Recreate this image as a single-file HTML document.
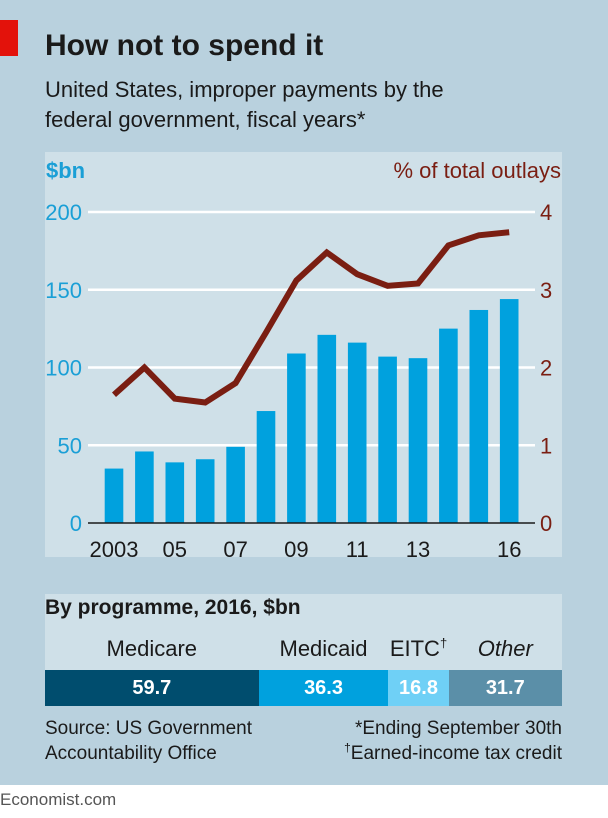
<!DOCTYPE html>
<html><head><meta charset="utf-8"><style>
body{margin:0;width:608px;height:818px;background:#fff;font-family:"Liberation Sans",sans-serif;position:relative;overflow:hidden}
.abs{position:absolute}
sup{line-height:0}
</style></head><body>
<div class="abs" style="left:0;top:0;width:608px;height:785px;background:#b9d1de"></div>
<div class="abs" style="left:0;top:20px;width:18px;height:36px;background:#e3120b"></div>
<div class="abs" style="left:45px;top:29px;font-size:30px;font-weight:bold;color:#1a1a1a">How not to spend it</div>
<div class="abs" style="left:45px;top:75px;font-size:22px;line-height:30px;color:#1a1a1a">United States, improper payments by the<br>federal government, fiscal years*</div>
<div class="abs" style="left:45px;top:152px;width:517px;height:405px;background:#cfe0e8"></div>
<svg class="abs" style="left:0;top:0" width="608" height="818">
<text x="46" y="178" font-size="22" font-weight="bold" fill="#1a9fd6">$bn</text>
<text x="561" y="178" font-size="22" fill="#7a1e12" text-anchor="end">% of total outlays</text>
<g id="g"></g>
</svg>
<div class="abs" style="left:45px;top:594px;width:517px;height:111px;background:#cfe0e8"></div>
<div class="abs" style="left:45px;top:596px;font-size:21px;font-weight:bold;color:#1a1a1a">By programme, 2016, $bn</div>
<div id="prog"></div>
<div class="abs" style="left:45px;top:716px;font-size:19px;line-height:25px;color:#1a1a1a">Source: US Government<br>Accountability Office</div>
<div class="abs" style="right:46px;top:716px;font-size:19px;line-height:25px;color:#1a1a1a;text-align:right">*Ending September 30th<br><sup style="font-size:12px">†</sup>Earned-income tax credit</div>
<div class="abs" style="left:0;top:790px;font-size:17px;color:#555">Economist.com</div>
<script>
const years=["2003","04","05","06","07","08","09","10","11","12","13","14","15","16"];
const xLabels=["2003","","05","","07","","09","","11","","13","","","16"];
const payments=[35,46,39,41,49,72,109,121,116,107,106,125,137,144];
const pctOutlays=[1.65,2.0,1.6,1.55,1.8,2.45,3.12,3.48,3.2,3.05,3.08,3.57,3.7,3.74];
const leftTicks=[0,50,100,150,200];
const rightTicks=[0,1,2,3,4];
const progNames=["Medicare","Medicaid","EITC","Other"];
const progValues=[59.7,36.3,16.8,31.7];
const NS="http://www.w3.org/2000/svg";
const g=document.getElementById('g');
const y0=523,yTop=212;
const yL=v=>y0-(v/200)*(y0-yTop);
const yR=v=>y0-(v/4)*(y0-yTop);
const xC=i=>114+i*30.4;
function mk(t,a){const e=document.createElementNS(NS,t);for(const k in a)e.setAttribute(k,a[k]);g.appendChild(e);return e;}
leftTicks.forEach((v,i)=>{
 if(v>0){const l=mk('line',{x1:88,x2:535,y1:yL(v),y2:yL(v),stroke:'#fff','stroke-width':2.5});
 
 }
 const t=mk('text',{x:82,y:yL(v)+8,'font-size':22,fill:'#1a9fd6','text-anchor':'end'});t.textContent=v;
 
 
});
rightTicks.forEach(v=>{
 const t=mk('text',{x:540,y:yR(v)+8,'font-size':22,fill:'#7a1e12'});t.textContent=v;
 
 
});
payments.forEach((v,i)=>{
 const r=mk('rect',{x:xC(i)-9.3,y:yL(v),width:18.6,height:y0-yL(v),fill:'#00a1de'});
 
 
});
const ax=mk('line',{x1:88,x2:535,y1:y0,y2:y0,stroke:'#1a1a1a','stroke-width':1.5});


xLabels.forEach((s,i)=>{if(!s)return;
 const t=mk('text',{x:xC(i),y:557,'font-size':22,fill:'#1a1a1a','text-anchor':'middle'});t.textContent=s;
 
 
});
const p=mk('polyline',{points:pctOutlays.map((v,i)=>xC(i)+','+yR(v)).join(' '),fill:'none',stroke:'#7a1e12','stroke-width':6,'stroke-linejoin':'miter'});


const prog=document.getElementById('prog');
const colors=['#004d6e','#00a1de','#6fd0f6','#5b8fa8'];
const total=progValues.reduce((a,b)=>a+b,0);
let x=45;
progValues.forEach((v,i)=>{
 const w=v/total*517;
 const seg=document.createElement('div');
 seg.className='abs';
 seg.style.cssText=`left:${x}px;top:670px;width:${w}px;height:36px;background:${colors[i]};color:#fff;font-weight:bold;font-size:20px;line-height:36px;text-align:center`;
 seg.textContent=v.toFixed(1);
 
 
 prog.appendChild(seg);
 const lb=document.createElement('div');
 lb.className='abs';
 lb.style.cssText=`left:${x}px;top:636px;width:${w}px;font-size:22px;color:#1a1a1a;text-align:center;${i==3?'font-style:italic;':''}`;
 lb.innerHTML=progNames[i]+(i==2?'<sup style="font-size:13px">†</sup>':'');
 
 
 prog.appendChild(lb);
 x+=w;
});
</script>
</body></html>
